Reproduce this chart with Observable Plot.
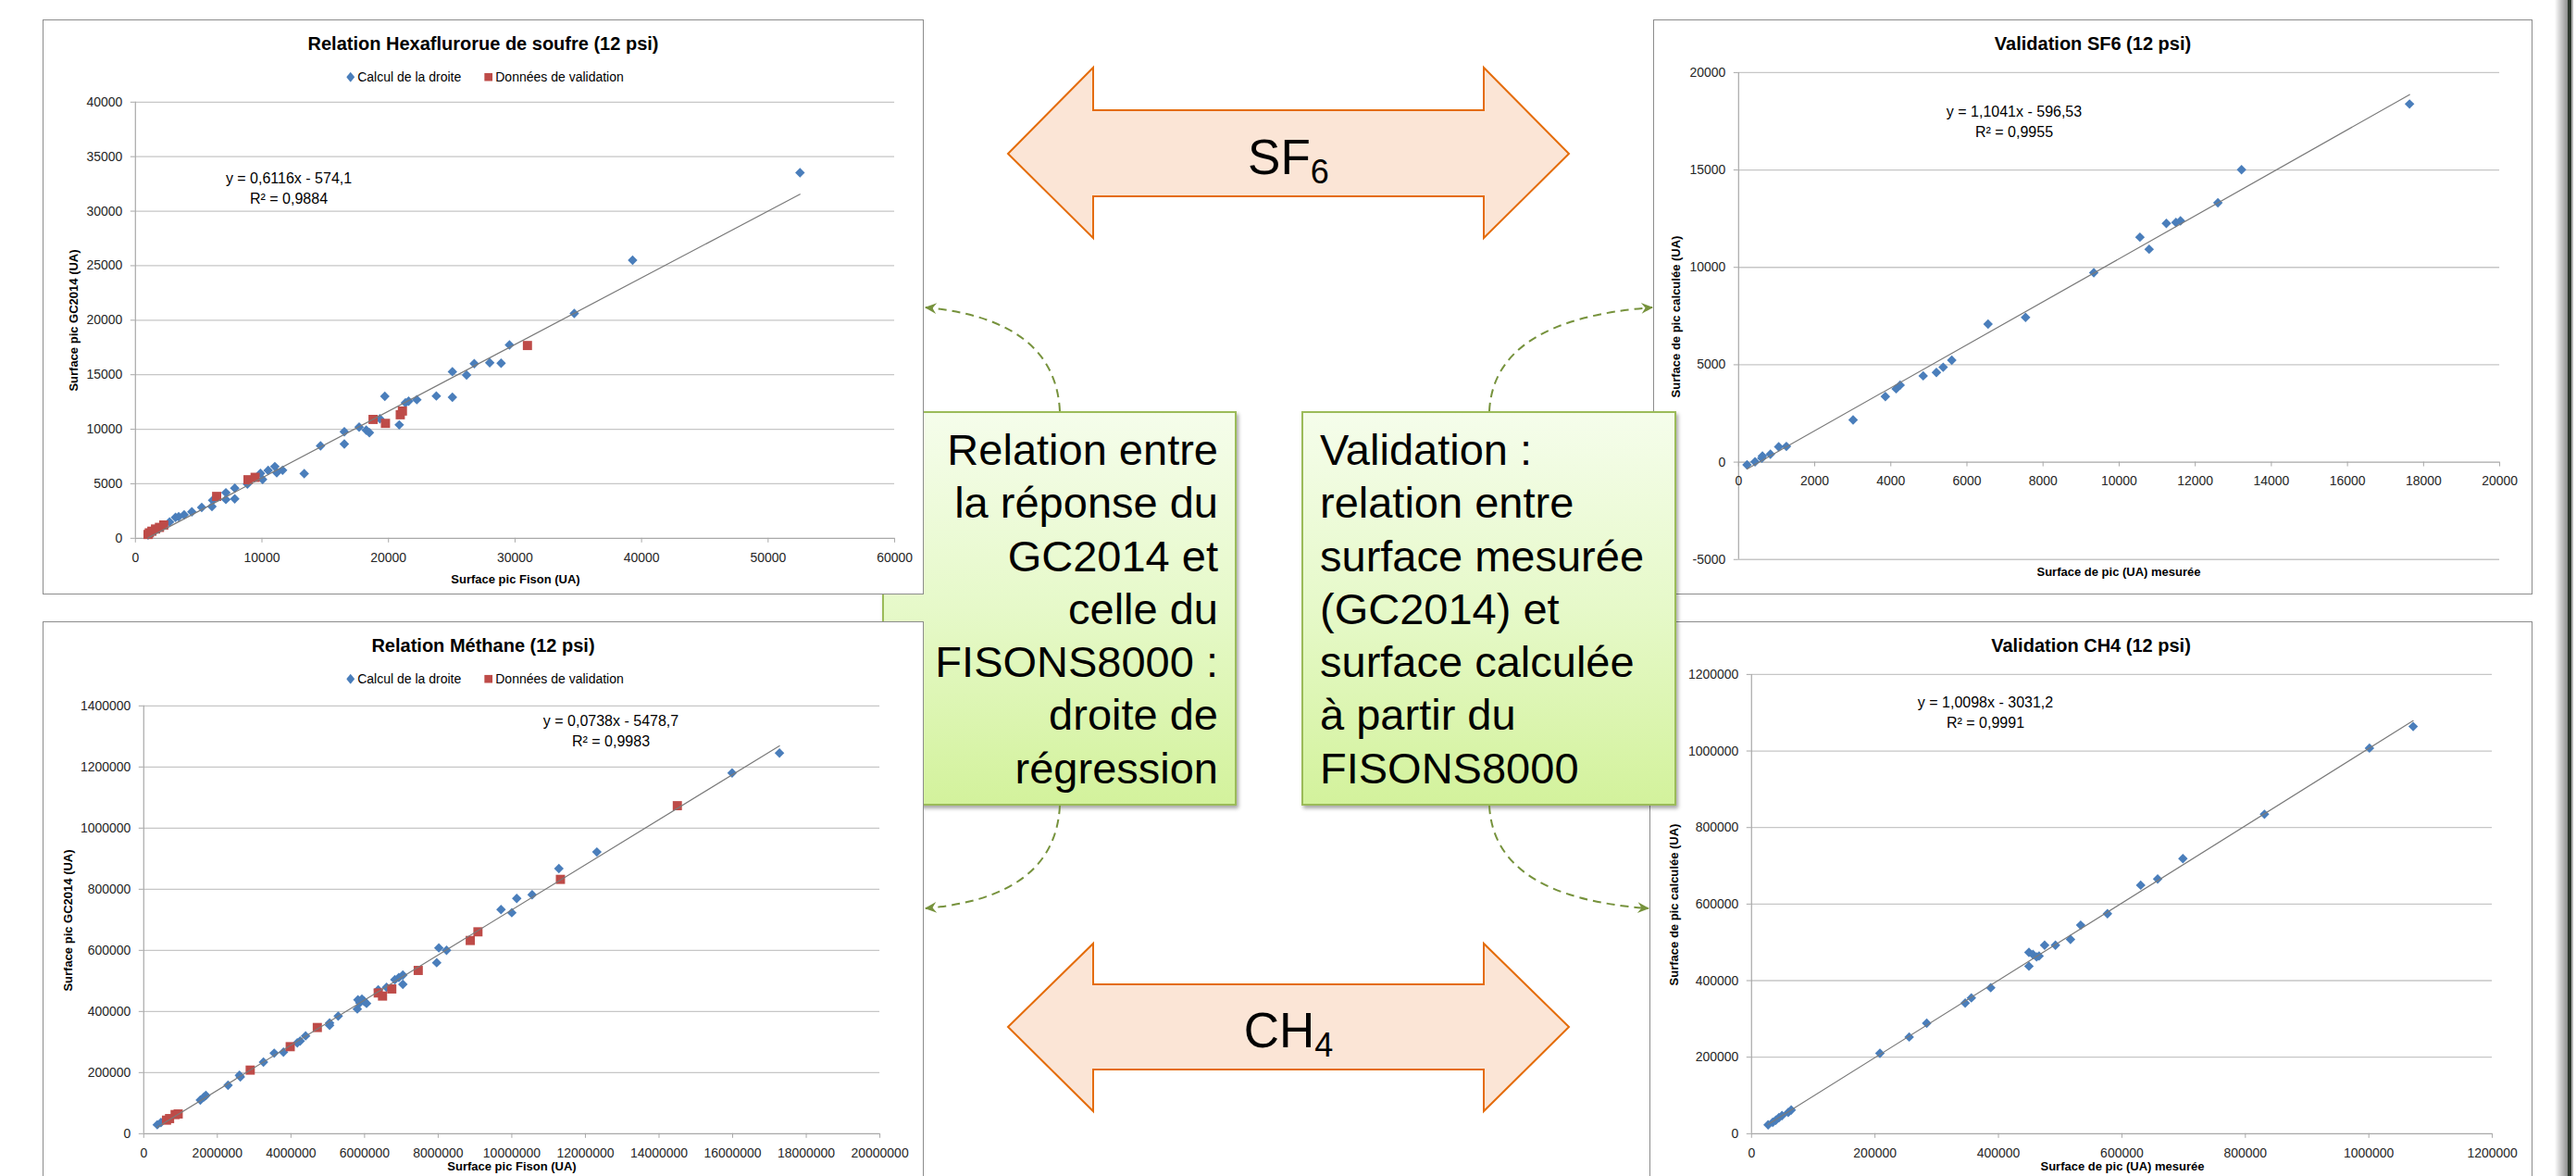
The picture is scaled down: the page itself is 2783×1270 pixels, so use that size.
<!DOCTYPE html>
<html lang="fr">
<head>
<meta charset="utf-8">
<script src="https://cdn.jsdelivr.net/npm/d3@7"></script>
<script src="https://cdn.jsdelivr.net/npm/@observablehq/plot@0.6"></script>
<style>
html, body { margin:0; padding:0; background:#fff; }
#page { position:relative; width:2783px; height:1270px; overflow:hidden; background:#fff; font-family:"Liberation Sans", Arial, sans-serif; color:#000; }
.chart { position:absolute; box-sizing:border-box; border:1px solid #8c8c8c; background:#fff; overflow:hidden; }
.chart svg { position:absolute; left:-1px; top:-1px; }
.lbl { position:absolute; transform:translate(-50%,-50%); white-space:nowrap; line-height:1.15; }
.tbox { position:absolute; box-sizing:border-box; border:2px solid #9bbb59; background:linear-gradient(180deg,#f5fdeb 0%,#e6f9c9 50%,#d3f29c 100%); box-shadow:2px 3px 4px rgba(0,0,0,0.35); font-size:47px; line-height:57.3px; color:#000; padding-top:11px; white-space:nowrap; }
</style>
</head>
<body>
<div id="page"></div>
<script>
// ---------- DATA ----------
// Relation SF6 (Hexafluorure de soufre) : Surface pic Fison (x) vs Surface pic GC2014 (y)
const sf6RelCalcX = [1000,1150,1300,1550,1800,2100,2700,3170,3420,3850,4460,5240,6050,6100,7150,7150,7850,7850,8850,9880,10050,10490,11020,11170,11630,13340,14630,16510,16510,17680,18240,18490,19320,19710,20850,21340,21590,22240,23780,25050,25050,26170,26780,28000,28900,29560,34680,39290,52520];
const sf6RelCalcY = [300,450,650,800,950,1150,1500,1920,1980,2150,2430,2830,2910,3480,4180,3560,4600,3620,4970,5960,5400,6220,6580,6020,6240,5930,8480,8640,9770,10200,9920,9690,10960,13020,10400,12430,12570,12710,13050,12940,15280,14970,16020,16100,16050,17740,20620,25500,33530];
const sf6RelValX = [1000,1100,1300,1590,1900,2240,6420,8900,9460,18780,19760,20930,21100,30980];
const sf6RelValY = [350,500,650,850,1000,1220,3840,5370,5590,10900,10540,11330,11670,17680];
const sf6RelSlope = 0.6116, sf6RelIntercept = -574.1;

// Validation SF6 : surface mesurée (x) vs surface calculée (y)
const sf6ValMeasX = [222,432,610,626,836,1054,1256,3009,3857,4140,4245,4851,5198,5376,5602,6555,7541,9334,10546,10788,11241,11492,11612,12595,13216,17631];
const sf6ValCalcY = [-142,16,206,316,411,791,807,2167,3370,3765,3955,4430,4604,4873,5236,7087,7435,9729,11549,10932,12261,12308,12387,13313,15014,18384];
const sf6ValSlope = 1.1041, sf6ValIntercept = -596.53;

// Relation Méthane : Surface pic Fison (x) vs Surface pic GC2014 (y)
const ch4RelCalcX = [368000,468000,1538000,1639000,1689000,2291000,2600000,2625000,3253000,3545000,3796000,4172000,4250000,4398000,5050000,5050000,5284000,5803000,5819000,5870000,5928000,5987000,6054000,6371000,6597000,6823000,6931000,7040000,7040000,7960000,8018000,8227000,9707000,10000000,10134000,10552000,11279000,12311000,15985000,17272000];
const ch4RelCalcY = [29300,36400,110100,120200,125300,158600,190900,185900,234300,263600,266700,297000,303000,320200,362600,354500,384800,408100,438400,428300,440400,433300,426300,470700,478800,504000,511100,519200,488900,559600,608100,600000,733300,723200,769700,781800,867700,921900,1180500,1245800];
const ch4RelValX = [619000,702000,853000,936000,2893000,3980000,4716000,6371000,6488000,6739000,7458000,8871000,9080000,11321000,14497000];
const ch4RelValY = [44400,49500,62600,64600,208100,284800,347500,460600,450500,473700,534300,632300,660600,832300,1073400];
const ch4RelSlope = 0.0738, ch4RelIntercept = -5478.7;

// Validation CH4 : surface mesurée (x) vs surface calculée (y)
const ch4ValMeasX = [26900,34400,39400,44400,49400,59400,64300,208000,255400,283800,346100,356100,387500,449400,449400,455900,461800,465800,474800,492300,516700,533200,576600,630400,657900,698800,830900,1001000,1071800];
const ch4ValCalcY = [23300,29800,35400,41800,47500,55500,62000,210100,252700,288900,341200,354900,381500,437800,474000,468400,462000,464400,492600,492600,507900,545000,574700,649500,665700,718800,834700,1007600,1064000];
const ch4ValSlope = 1.0098, ch4ValIntercept = -3031.2;

// Tick values
const sf6RelXTicks = [0,10000,20000,30000,40000,50000,60000];
const sf6RelYTicks = [0,5000,10000,15000,20000,25000,30000,35000,40000];
const sf6ValXTicks = [0,2000,4000,6000,8000,10000,12000,14000,16000,18000,20000];
const sf6ValYTicks = [-5000,0,5000,10000,15000,20000];
const ch4RelXTicks = [0,2000000,4000000,6000000,8000000,10000000,12000000,14000000,16000000,18000000,20000000];
const ch4RelYTicks = [0,200000,400000,600000,800000,1000000,1200000,1400000];
const ch4ValXTicks = [0,200000,400000,600000,800000,1000000,1200000];
const ch4ValYTicks = [0,200000,400000,600000,800000,1000000,1200000];

// Texts
const legendCalc = "Calcul de la droite";
const legendVal = "Données de validation";

// ---------- RENDER ----------
const page = document.getElementById("page");
const BLUE = "#4a7ebb", RED = "#be4b48";
const pts = (X, Y) => X.map((x, i) => ({x, y: Y[i]}));
const trend = (X, a, b) => { const [lo, hi] = d3.extent(X); return [{x: lo, y: a * lo + b}, {x: hi, y: a * hi + b}]; };

function label(html, cx, cy, css, rotate) {
  const d = document.createElement("div");
  d.className = "lbl";
  d.style.cssText += css;
  d.style.left = cx + "px"; d.style.top = cy + "px";
  if (rotate) d.style.transform = "translate(-50%,-50%) rotate(-90deg)";
  d.innerHTML = html;
  page.appendChild(d);
}

// green text box on the left (under the charts)
const leftBox = document.createElement("div");
leftBox.className = "tbox";
Object.assign(leftBox.style, {left: "953px", top: "444px", width: "383px", height: "426px", textAlign: "right", paddingRight: "18px"});
leftBox.innerHTML = "Relation entre<br>la réponse du<br>GC2014 et<br>celle du<br>FISONS8000 :<br>droite de<br>régression";
page.appendChild(leftBox);

function drawChart(c) {
  const [bx, by, bw, bh] = c.box;
  const [x0, y0, x1, y1] = c.area;
  const div = document.createElement("div");
  div.className = "chart";
  Object.assign(div.style, {left: bx + "px", top: by + "px", width: bw + "px", height: bh + "px"});
  const fmt = d => String(d);
  const gridColor = "#c6c6c6", axisColor = "#a8a8a8";
  const axisLevel = c.xAxisAtZero ? 0 : c.yDomain[0];
  const pxPerY = (y1 - y0) / (c.yDomain[1] - c.yDomain[0]);
  const marks = [
    Plot.gridY(c.yTicks.filter(v => v !== axisLevel), {stroke: gridColor, strokeOpacity: 1, strokeWidth: 1.3}),
    Plot.ruleX([c.xDomain[0]], {stroke: axisColor, strokeWidth: 1.2}),
    Plot.ruleY([axisLevel], {stroke: axisColor, strokeWidth: 1.3}),
    Plot.axisY(c.yTicks, {tickSize: 5, tickPadding: 9, tickFormat: fmt, label: null, stroke: axisColor, fill: "#262626"})
  ];
  if (c.xAxisAtZero) {
    marks.push(Plot.ruleX(c.xTicks, {x: d => d, y1: () => 0, y2: () => -5 / pxPerY, stroke: axisColor}));
    marks.push(Plot.text(c.xTicks, {x: d => d, y: () => 0, text: fmt, dy: 20, lineAnchor: "middle", fill: "#262626"}));
  } else {
    marks.push(Plot.axisX(c.xTicks, {tickSize: 5, tickPadding: 11, tickFormat: fmt, label: null, stroke: axisColor, fill: "#262626"}));
  }
  marks.push(Plot.dot(c.calc, {x: "x", y: "y", symbol: "diamond2", r: 4.7, fill: BLUE}));
  if (c.val) marks.push(Plot.dot(c.val, {x: "x", y: "y", symbol: "square", r: 5.6, fill: RED}));
  marks.push(Plot.line(c.trend, {x: "x", y: "y", stroke: "#7a7a7a", strokeWidth: 1.2}));
  const svg = Plot.plot({
    width: bw, height: bh,
    marginLeft: x0 - bx, marginRight: bx + bw - x1, marginTop: y0 - by, marginBottom: by + bh - y1,
    x: {type: "linear", domain: c.xDomain, axis: c.xAxisAtZero ? null : undefined},
    y: {type: "linear", domain: c.yDomain},
    style: {background: "transparent", fontFamily: "Liberation Sans, Arial, sans-serif", fontSize: "14px", color: "#262626", overflow: "visible"},
    marks
  });
  div.appendChild(svg);
  page.appendChild(div);

  label(c.title, c.titlePos[0], c.titlePos[1], "font-size:20px;font-weight:bold;");
  label(c.eq[0], c.eqPos[0], c.eqPos[1], "font-size:16px;");
  label(c.eq[1], c.eqPos[0], c.eqPos[1] + 22, "font-size:16px;");
  label(c.xTitle, c.xTitlePos[0], c.xTitlePos[1], "font-size:13px;font-weight:bold;");
  label(c.yTitle, c.yTitlePos[0], c.yTitlePos[1], "font-size:13px;font-weight:bold;", true);
  if (c.legendY) {
    label(`<span style="display:inline-flex;align-items:center;gap:0">
      <svg width="9" height="11" style="margin-right:3px"><path d="M4.5,0L9,5.5L4.5,11L0,5.5Z" fill="${BLUE}"/></svg>${legendCalc}
      <svg width="9" height="9" style="margin-left:25px;margin-right:3px"><rect width="9" height="9" fill="${RED}"/></svg>${legendVal}</span>`,
      524, c.legendY, "font-size:14px;");
  }
}

drawChart({
  box: [46, 21, 952, 621], area: [146, 110, 968, 582],
  xDomain: [0, 60000], yDomain: [0, 40000], xTicks: sf6RelXTicks, yTicks: sf6RelYTicks,
  calc: pts(sf6RelCalcX, sf6RelCalcY), val: pts(sf6RelValX, sf6RelValY),
  trend: trend(sf6RelCalcX, sf6RelSlope, sf6RelIntercept),
  title: "Relation Hexaflurorue de soufre (12 psi)", titlePos: [522, 47], legendY: 83,
  eq: ["y = 0,6116x - 574,1", "R² = 0,9884"], eqPos: [312, 193],
  xTitle: "Surface pic Fison (UA)", xTitlePos: [557, 626],
  yTitle: "Surface pic GC2014 (UA)", yTitlePos: [80, 346]
});
drawChart({
  box: [1786, 21, 950, 621], area: [1878, 78, 2702, 605],
  xDomain: [0, 20000], yDomain: [-5000, 20000], xTicks: sf6ValXTicks, yTicks: sf6ValYTicks, xAxisAtZero: true,
  calc: pts(sf6ValMeasX, sf6ValCalcY),
  trend: trend(sf6ValMeasX, sf6ValSlope, sf6ValIntercept),
  title: "Validation SF6 (12 psi)", titlePos: [2261, 47],
  eq: ["y = 1,1041x - 596,53", "R² = 0,9955"], eqPos: [2176, 121],
  xTitle: "Surface de pic (UA) mesurée", xTitlePos: [2289, 618],
  yTitle: "Surface de pic calculée (UA)", yTitlePos: [1811, 342]
});
drawChart({
  box: [46, 671, 952, 640], area: [155, 762, 952, 1225],
  xDomain: [0, 20000000], yDomain: [0, 1400000], xTicks: ch4RelXTicks, yTicks: ch4RelYTicks,
  calc: pts(ch4RelCalcX, ch4RelCalcY), val: pts(ch4RelValX, ch4RelValY),
  trend: trend(ch4RelCalcX, ch4RelSlope, ch4RelIntercept),
  title: "Relation Méthane (12 psi)", titlePos: [522, 697], legendY: 733,
  eq: ["y = 0,0738x - 5478,7", "R² = 0,9983"], eqPos: [660, 779],
  xTitle: "Surface pic Fison (UA)", xTitlePos: [553, 1260],
  yTitle: "Surface pic GC2014 (UA)", yTitlePos: [74, 994]
});
drawChart({
  box: [1782, 671, 954, 640], area: [1892, 728, 2694, 1225],
  xDomain: [0, 1200000], yDomain: [0, 1200000], xTicks: ch4ValXTicks, yTicks: ch4ValYTicks,
  calc: pts(ch4ValMeasX, ch4ValCalcY),
  trend: trend(ch4ValMeasX, ch4ValSlope, ch4ValIntercept),
  title: "Validation CH4 (12 psi)", titlePos: [2259, 697],
  eq: ["y = 1,0098x - 3031,2", "R² = 0,9991"], eqPos: [2145, 759],
  xTitle: "Surface de pic (UA) mesurée", xTitlePos: [2293, 1260],
  yTitle: "Surface de pic calculée (UA)", yTitlePos: [1809, 977]
});

// right green box (on top of right charts)
const rightBox = document.createElement("div");
rightBox.className = "tbox";
Object.assign(rightBox.style, {left: "1406px", top: "444px", width: "405px", height: "426px", textAlign: "left", paddingLeft: "18px"});
rightBox.innerHTML = "Validation :<br>relation entre<br>surface mesurée<br>(GC2014) et<br>surface calculée<br>à partir du<br>FISONS8000";
page.appendChild(rightBox);

// right edge bar
[[2760, 14, "linear-gradient(90deg,#ffffff,#8f8f8f)"], [2774, 4, "#2e382e"], [2778, 2, "#b5b5b5"]].forEach(([l, w, bg]) => {
  const d = document.createElement("div");
  Object.assign(d.style, {position: "absolute", left: l + "px", top: "0px", width: w + "px", height: "1270px", background: bg});
  page.appendChild(d);
});

// overlay: double arrows and dashed connectors
const NS = "http://www.w3.org/2000/svg";
const ov = document.createElementNS(NS, "svg");
ov.setAttribute("width", 2783); ov.setAttribute("height", 1270);
Object.assign(ov.style, {position: "absolute", left: "0px", top: "0px", pointerEvents: "none"});
ov.innerHTML = `
<defs><marker id="ah" viewBox="0 0 14 14" refX="12" refY="7" markerWidth="15" markerHeight="15" markerUnits="userSpaceOnUse" orient="auto">
<path d="M1,1.5 L13,7 L1,12.5 L5,7 Z" fill="#76923c"/></marker></defs>
<polygon points="1089,166 1181,73 1181,119 1603,119 1603,73 1695,166 1603,257 1603,212 1181,212 1181,257" fill="#fbe5d6" stroke="#e46c0a" stroke-width="2"/>
<polygon points="1089,1109 1181,1019 1181,1063 1603,1063 1603,1019 1695,1109 1603,1200 1603,1155 1181,1155 1181,1200" fill="#fbe5d6" stroke="#e46c0a" stroke-width="2"/>
<text x="1392" y="188" text-anchor="middle" font-family="Liberation Sans, Arial, sans-serif" font-size="53">SF<tspan font-size="36" dy="10">6</tspan></text>
<text x="1392" y="1131" text-anchor="middle" font-family="Liberation Sans, Arial, sans-serif" font-size="53">CH<tspan font-size="36" dy="10">4</tspan></text>
<g fill="none" stroke="#76923c" stroke-width="2" stroke-dasharray="9 6">
<path d="M1145,444 Q1140,345 1000,332" marker-end="url(#ah)"/>
<path d="M1609,444 Q1614,345 1785,332" marker-end="url(#ah)"/>
<path d="M1145,870 Q1140,969 1000,981" marker-end="url(#ah)"/>
<path d="M1609,870 Q1614,969 1781,981" marker-end="url(#ah)"/>
</g>`;
page.appendChild(ov);
</script>
</body>
</html>
